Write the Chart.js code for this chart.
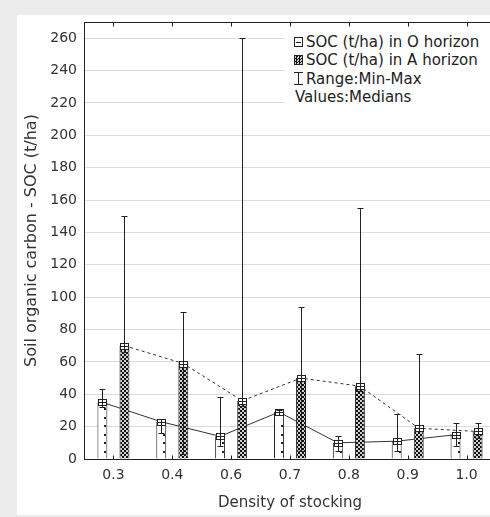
<!DOCTYPE html>
<html>
<head>
<meta charset="utf-8">
<script src="https://cdn.jsdelivr.net/npm/chart.js@4.4.1/dist/chart.umd.min.js"></script>
<style>
html,body{margin:0;padding:0;}
body{width:490px;height:517px;overflow:hidden;background:#ececec;position:relative;font-family:"DejaVu Sans",sans-serif;}
#panel{position:absolute;left:17px;top:15px;width:480px;height:500px;background:#fff;}
#c{position:absolute;left:0;top:0;}
#legend{position:absolute;left:285px;top:27px;width:205px;height:84px;background:#fff;color:#222;font-size:15px;line-height:18.3px;padding-top:6px;box-sizing:border-box;}
.row{position:relative;padding-left:21px;white-space:nowrap;}
.row.plain{padding-left:10px;}
.ico{position:absolute;left:9px;top:4px;width:9px;height:10px;box-sizing:border-box;border:1px solid #222;}
.ico-o{background:linear-gradient(#222,#222) 1px 4px/5px 1px no-repeat,#fff;}
.ico-a{background:repeating-conic-gradient(#111 0 25%,#ccc 0 50%) 0 0/3px 3px;}
.ico-r{border:none;border-top:1px solid #222;border-bottom:1px solid #222;height:13px;top:2px;background:linear-gradient(#222,#222) 4px 0/1px 100% no-repeat;}
</style>
</head>
<body>
<div id="panel"></div>
<canvas id="c" width="500" height="517"></canvas>
<div id="legend">
  <div class="row"><span class="ico ico-o"></span>SOC (t/ha) in O horizon</div>
  <div class="row"><span class="ico ico-a"></span>SOC (t/ha) in A horizon</div>
  <div class="row"><span class="ico ico-r"></span>Range:Min-Max</div>
  <div class="row plain">Values:Medians</div>
</div>
<script>
const categories = ['0.3', '0.4', '0.6', '0.7', '0.8', '0.9', '1.0'];
const oMedian = [35, 23, 14, 29, 10, 11, 15];
const oMin    = [32, 16, 8, 27, 5, 5, 8];
const oMax    = [43, 25, 38, 30, 14, 28, 22];
const aMedian = [70, 59, 36, 50, 45, 19, 17];
const aMin    = [66, 3, 33, 5, 42, 17, 13];
const aMax    = [150, 91, 260, 94, 155, 65, 22];
const yTicks  = [0, 20, 40, 60, 80, 100, 120, 140, 160, 180, 200, 220, 240, 260];

const RANGES = [[oMin, oMax], [aMin, aMax]];
const INK = '#222';

// checkered fill for the A horizon bars
function checker(){
  const t = document.createElement('canvas'); t.width = 4; t.height = 4;
  const g = t.getContext('2d');
  g.fillStyle = '#111'; g.fillRect(0,0,4,4);
  g.fillStyle = '#cfcfcf'; g.fillRect(0,0,2,2); g.fillRect(2,2,2,2);
  return document.getElementById('c').getContext('2d').createPattern(t, 'repeat');
}

const extras = {
  id: 'extras',
  beforeDatasetsDraw(chart){
    const ctx = chart.ctx;
    [0,1].forEach(i => {
      const bars = chart.getDatasetMeta(i).data;
      ctx.save();
      ctx.strokeStyle = '#333'; ctx.lineWidth = 1;
      ctx.setLineDash(i ? [3,3] : []);
      ctx.beginPath();
      bars.forEach((b,j) => j ? ctx.lineTo(b.x, b.y) : ctx.moveTo(b.x, b.y));
      ctx.stroke();
      ctx.restore();
    });
  },
  afterDatasetsDraw(chart){
    const ctx = chart.ctx, ys = chart.scales.y, xs = chart.scales.x, a = chart.chartArea;
    ctx.save();
    // dots inside O bars
    ctx.fillStyle = INK;
    chart.getDatasetMeta(0).data.forEach(b => {
      for (let py = b.base - 8; py > b.y + 5; py -= 8.5) ctx.fillRect(Math.round(b.x + 2), Math.round(py), 2, 2);
    });
    // min-max whiskers and median boxes
    ctx.strokeStyle = INK; ctx.lineWidth = 1;
    RANGES.forEach(([lo, hi], i) => {
      chart.getDatasetMeta(i).data.forEach((b, j) => {
        const cx = Math.round(b.x) + 0.5;
        const my = Math.round(b.y) + 0.5;
        const yl = Math.round(ys.getPixelForValue(lo[j])) + 0.5;
        const yh = Math.round(ys.getPixelForValue(hi[j])) + 0.5;
        ctx.fillStyle = '#fff';
        ctx.fillRect(cx - 4, my - 3, 8, 6);
        ctx.strokeRect(cx - 4, my - 3, 8, 6);
        ctx.beginPath();
        ctx.moveTo(cx - 4, my); ctx.lineTo(cx + 4, my);
        ctx.moveTo(cx, yl); ctx.lineTo(cx, yh);
        ctx.moveTo(cx - 3, yl); ctx.lineTo(cx + 3, yl);
        ctx.moveTo(cx - 3, yh); ctx.lineTo(cx + 3, yh);
        ctx.stroke();
      });
    });
    // frame + inner category ticks
    const top = Math.round(a.top) + 0.5, bot = Math.round(a.bottom) + 0.5;
    ctx.beginPath();
    ctx.moveTo(a.left, top); ctx.lineTo(a.right, top); ctx.lineTo(a.right, a.bottom);
    categories.forEach((c, j) => {
      const px = Math.round(xs.getPixelForValue(j)) + 0.5;
      ctx.moveTo(px, top); ctx.lineTo(px, top + 4);
      ctx.moveTo(px, bot); ctx.lineTo(px, bot - 4);
    });
    ctx.stroke();
    ctx.restore();
  }
};

const font = sz => ({ family: '"DejaVu Sans", sans-serif', size: sz });

new Chart(document.getElementById('c'), {
  type: 'bar',
  data: {
    labels: categories,
    datasets: [
      { label: 'SOC (t/ha) in O horizon', data: oMedian, backgroundColor: '#fff', borderColor: INK, borderWidth: 1, inflateAmount: 0 },
      { label: 'SOC (t/ha) in A horizon', data: aMedian, backgroundColor: checker(), borderColor: INK, borderWidth: 1, inflateAmount: 0 }
    ]
  },
  options: {
    responsive: false,
    animation: false,
    devicePixelRatio: 1,
    barPercentage: 0.45,
    categoryPercentage: 0.75,
    layout: { padding: { left: 17, top: 22, right: 4, bottom: 0 } },
    plugins: { legend: { display: false }, tooltip: { enabled: false } },
    scales: {
      x: {
        grid: { display: false, drawTicks: false },
        border: { display: true, color: INK, width: 1 },
        ticks: { font: font(14), color: '#333', padding: 8 },
        title: { display: true, text: 'Density of stocking', font: font(15), color: '#333', padding: { top: 0, bottom: 5 } },
        afterFit: s => { s.height = 58; }
      },
      y: {
        min: 0, max: 270,
        afterBuildTicks: s => { s.ticks = yTicks.map(v => ({ value: v })); },
        grid: { color: '#dcdcdc', drawTicks: false },
        border: { display: true, color: INK, width: 1 },
        ticks: { font: font(14), color: '#333', padding: 7 },
        title: { display: true, text: 'Soil organic carbon - SOC (t/ha)', font: font(16), color: '#333', padding: { top: 5, bottom: 0 } },
        afterFit: s => { s.width = 67; }
      }
    }
  },
  plugins: [extras]
});
</script>
</body>
</html>
